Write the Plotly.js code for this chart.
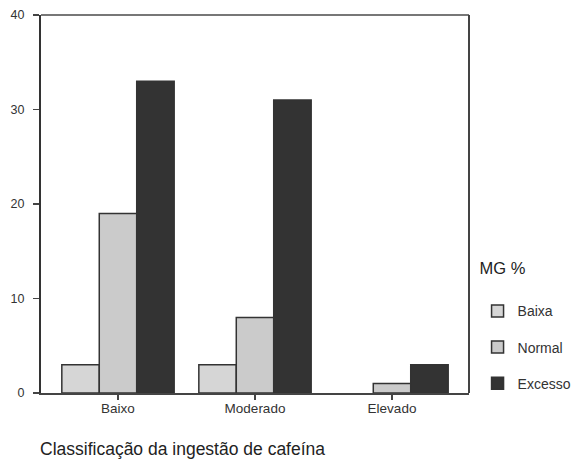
<!DOCTYPE html>
<html>
<head>
<meta charset="utf-8">
<script src="https://cdn.plot.ly/plotly-3.0.1.min.js"></script>
<style>html,body{margin:0;padding:0;background:#fff;}#chart{width:577px;height:461px;}</style>
</head>
<body>
<div id="chart"></div>
<script>
const categories = ["Baixo", "Moderado", "Elevado"];
const seriesNames = ["Baixa", "Normal", "Excesso"];
const baixaValues = [3, 3, 0];
const normalValues = [19, 8, 1];
const excessoValues = [33, 31, 3];
const yTickValues = [0, 10, 20, 30, 40];
const legendTitle = "MG %";
const xTitle = "Classificação da ingestão de cafeína";

const colors = ["#d6d6d6", "#cbcbcb", "#333333"];
const values = [baixaValues, normalValues, excessoValues];

const traces = seriesNames.map((name, i) => ({
  type: "bar",
  name: name,
  x: categories,
  y: values[i],
  legendgroup: name,
  marker: {
    color: colors[i],
    line: {color: "#333333", width: values[i].map(v => v === 0 ? 0 : 1.5)}
  },
  hoverinfo: "x+y+name"
}));

const layout = {
  width: 577,
  height: 461,
  margin: {l: 41, r: 108, t: 15, b: 68, autoexpand: false},
  paper_bgcolor: "#ffffff",
  plot_bgcolor: "#ffffff",
  font: {family: "Liberation Sans, Arial, sans-serif", size: 12, color: "#333333"},
  barmode: "group",
  bargap: 0.18,
  bargroupgap: 0,
  showlegend: true,
  legend: {
    x: 1.02, xanchor: "left",
    y: 0.372, yanchor: "top",
    title: {text: legendTitle + "<br> ", font: {size: 16.5, color: "#222222"}},
    font: {size: 14, color: "#333333"},
    tracegroupgap: 15,
    bgcolor: "rgba(0,0,0,0)"
  },
  xaxis: {
    type: "category",
    range: [-0.562, 2.562],
    showline: true, linecolor: "#444444", linewidth: 2,
    mirror: false,
    ticks: "outside", ticklen: 5, tickwidth: 1.5, tickcolor: "#444444",
    ticklabelstandoff: -3,
    showgrid: false, zeroline: false,
    tickfont: {size: 13.5, color: "#333333"}
  },
  yaxis: {
    range: [0, 40],
    tickvals: yTickValues,
    showline: true, linecolor: "#333333", linewidth: 2,
    ticks: "outside", ticklen: 6, tickwidth: 1.5, tickcolor: "#444444",
    ticklabelstandoff: 6,
    showgrid: false, zeroline: false,
    tickfont: {size: 12.5, color: "#333333"}
  },
  shapes: [
    {type: "line", xref: "paper", yref: "paper", x0: 0, x1: 1, y0: 1, y1: 1, line: {color: "#777777", width: 2}},
    {type: "line", xref: "paper", yref: "paper", x0: 1, x1: 1, y0: 0, y1: 1, line: {color: "#444444", width: 2}}
  ],
  annotations: [
    {text: xTitle, xref: "paper", yref: "paper", x: -0.008, xanchor: "left", y: -0.148, yanchor: "middle",
     showarrow: false, font: {size: 17.5, color: "#222222"}}
  ]
};

Plotly.newPlot("chart", traces, layout, {displayModeBar: false, staticPlot: true});
</script>
</body>
</html>
